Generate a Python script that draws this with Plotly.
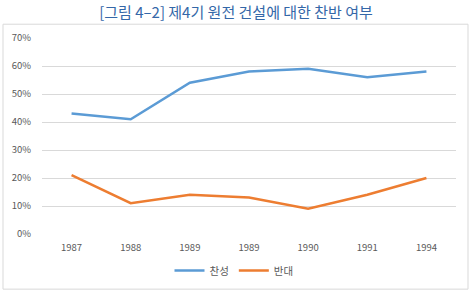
import plotly.graph_objects as go

years = ["1987", "1988", "1989", "1989", "1990", "1991", "1994"]
favor = [43, 41, 54, 58, 59, 56, 58]
oppose = [21, 11, 14, 13, 9, 14, 20]
y_ticks = [0, 10, 20, 30, 40, 50, 60, 70]

W, H = 471, 297
idx = list(range(len(years)))

fig = go.Figure()
fig.add_trace(go.Scatter(x=idx, y=favor, mode="lines", name="찬성",
                         line=dict(color="#5b9bd5", width=2.5)))
fig.add_trace(go.Scatter(x=idx, y=oppose, mode="lines", name="반대",
                         line=dict(color="#ed7d31", width=2.5)))

font_family = "Noto Sans CJK KR"
l, r, t, b = 42, W - 456, 38, H - 237

fig.update_layout(
    width=W, height=H,
    margin=dict(l=l, r=r, t=t, b=b),
    paper_bgcolor="white", plot_bgcolor="white",
    font=dict(family=font_family, color="#595959", size=9.5),
    title=dict(text="[그림 4–2] 제4기 원전 건설에 대한 찬반 여부", x=236 / W, xanchor="center",
               y=1 - 12.5 / H, yanchor="middle",
               font=dict(family=font_family, size=15, color="#3467a8")),
    showlegend=True,
    legend=dict(orientation="h", x=(234 - l) / (456 - l), xanchor="center",
                y=-(274 - 237) / (237 - 38),
                yanchor="middle", font=dict(size=10.5, color="#595959"),
                itemwidth=30, bgcolor="rgba(0,0,0,0)"),
    xaxis=dict(range=[-0.5, len(years) - 0.5], tickmode="array", tickvals=idx,
               ticktext=years, showgrid=False, zeroline=False, showline=False,
               ticks="", ticklabelstandoff=6, fixedrange=True),
    yaxis=dict(range=[0, 70], tickmode="array", tickvals=y_ticks,
               ticktext=[f"{v}%" for v in y_ticks], showgrid=True,
               gridcolor="#d9d9d9", gridwidth=1, zeroline=False, showline=False,
               ticks="", ticklabelstandoff=10, fixedrange=True),
    shapes=[dict(type="rect", xref="paper", yref="paper",
                 x0=(3 - l) / (456 - l), x1=(468 - l) / (456 - l),
                 y0=(237 - 293) / (237 - 38), y1=(237 - 24) / (237 - 38),
                 line=dict(color="#d9d9d9", width=1), layer="below")],
)

fig.write_html("out.html")
